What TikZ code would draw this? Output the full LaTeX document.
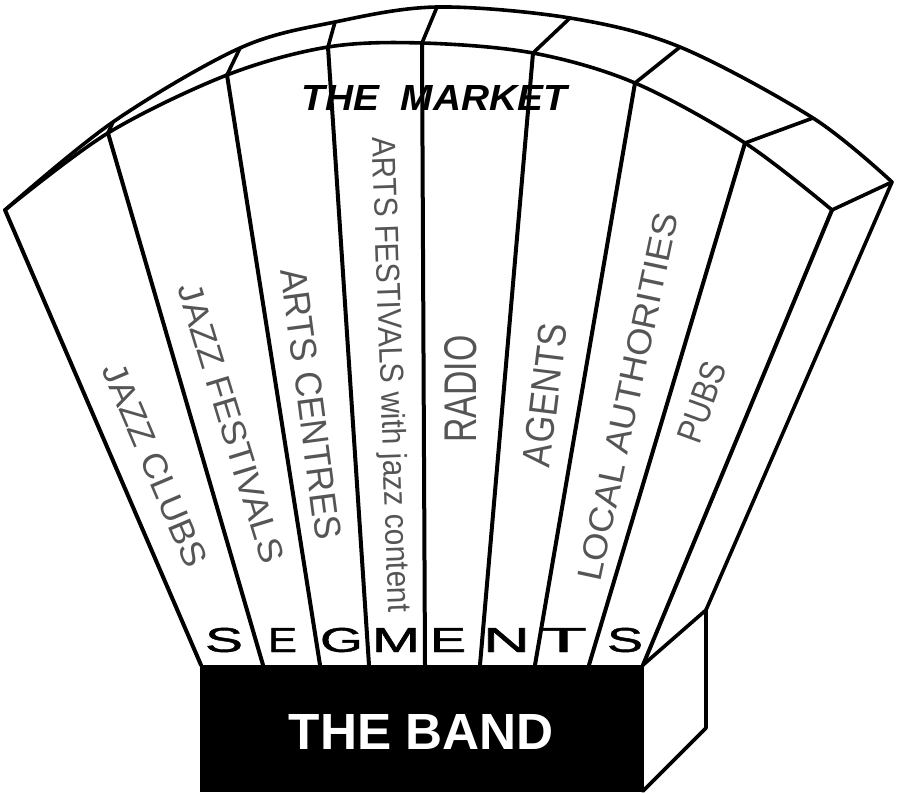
\documentclass[tikz,border=0pt]{standalone}
\usepackage{fontspec}
\setmainfont{Liberation Sans}
\newfontfamily\segfont[FakeBold=1.2]{Liberation Sans}
\usepackage{graphicx}
\definecolor{lblgray}{HTML}{555555}
\begin{document}
\begin{tikzpicture}[x=1pt,y=-1pt,
  stripline/.style={line width=4pt, line cap=round, line join=round},
  arcline/.style={line width=3.6pt, line cap=round, line join=round},
  seglabel/.style={text=lblgray, inner sep=0pt, anchor=center},
  segletter/.style={text=black, inner sep=0pt, anchor=center, font=\segfont},
  titletext/.style={text=black, inner sep=0pt, anchor=center}]
\useasboundingbox (0,0) rectangle (900,793);
% front top (inner arc) points
\coordinate (P0) at (5,210);
\coordinate (P1) at (108,133);
\coordinate (P2) at (227,75);
\coordinate (P3) at (328,47);
\coordinate (P4) at (422,43);
\coordinate (P5) at (533,53);
\coordinate (P6) at (635,83);
\coordinate (P7) at (745,143);
\coordinate (P8) at (832,210);
% back top (outer arc) points
\coordinate (Q1) at (113,122);
\coordinate (Q2) at (240,48);
\coordinate (Q3) at (335,22);
\coordinate (Q4) at (437,7);
\coordinate (Q5) at (570,18);
\coordinate (Q6) at (680,47);
\coordinate (Q7) at (813,118);
\coordinate (Q8) at (892,182);
% bottom points on the band
\coordinate (B0) at (201,665);
\coordinate (B1) at (263,665);
\coordinate (B2) at (320,665);
\coordinate (B3) at (369,665);
\coordinate (B4) at (425,665);
\coordinate (B5) at (480,665);
\coordinate (B6) at (535,665);
\coordinate (B7) at (589,665);
\coordinate (B8) at (643,665);
% side face corners
\coordinate (J) at (706,610);
\coordinate (R2) at (706,728);
\coordinate (R3) at (643,791);

% the band box
\node[fill=black, draw=black, minimum width=443pt, minimum height=126pt, inner sep=0pt] (band) at (421.5,728) {};
\node[text=white, inner sep=0pt] (bandtext) at (421.5,731.5) {\resizebox{265pt}{35pt}{\bfseries THE BAND}};

% title
\node[titletext] (market) at (434.5,97.5) {\resizebox{265pt}{25pt}{\bfseries\itshape THE\hspace{0.55em}MARKET}};

% segment labels
\node[seglabel, rotate=-67] (l1) at (155,465) {\resizebox{218pt}{24pt}{JAZZ CLUBS}};
\node[seglabel, rotate=-73] (l2) at (231,423) {\resizebox{290pt}{24pt}{JAZZ FESTIVALS}};
\node[seglabel, rotate=-82.5] (l3) at (311,404) {\resizebox{273pt}{26pt}{ARTS CENTRES}};
\node[seglabel, rotate=-88] (l4) at (389,375) {\resizebox{475pt}{24pt}{ARTS FESTIVALS with jazz content}};
\node[seglabel, rotate=90] (l5) at (461,389) {\resizebox{107pt}{32pt}{RADIO}};
\node[seglabel, rotate=83] (l6) at (545,395) {\resizebox{144pt}{28pt}{AGENTS}};
\node[seglabel, rotate=78] (l7) at (628,397) {\resizebox{375pt}{24pt}{LOCAL AUTHORITIES}};
\node[seglabel, rotate=70] (l8) at (702,402) {\resizebox{83pt}{25pt}{PUBS}};

% SEGMENTS letters
\node[segletter] (s1) at (224,640) {\resizebox{38pt}{24pt}{S}};
\node[segletter] (s2) at (282.5,640) {\resizebox{29pt}{24pt}{E}};
\node[segletter] (s3) at (341.5,640) {\resizebox{43pt}{24pt}{G}};
\node[segletter] (s4) at (396,640) {\resizebox{48pt}{24pt}{M}};
\node[segletter] (s5) at (448,640) {\resizebox{36pt}{24pt}{E}};
\node[segletter] (s6) at (506.5,640) {\resizebox{47pt}{24pt}{N}};
\node[segletter] (s7) at (563.5,640) {\resizebox{47pt}{24pt}{T}};
\node[segletter] (s8) at (625,640) {\resizebox{36pt}{24pt}{S}};

% strip lines
\foreach \i in {0,...,8} { \draw[stripline] (P\i) -- (B\i); }
% arcs
\draw[arcline] plot[smooth, tension=0.55] coordinates {(P0) (P1) (P2) (P3) (P4) (P5) (P6) (P7) (P8)};
\draw[arcline] plot[smooth, tension=0.55] coordinates {(P0) (Q1) (Q2) (Q3) (Q4) (Q5) (Q6) (Q7) (Q8)};
% depth edges
\foreach \i in {1,...,8} { \draw[arcline] (P\i) -- (Q\i); }
% right side face and box side
\draw[arcline] (Q8) -- (J);
\draw[arcline] (B8) -- (J) -- (R2) -- (R3);
\end{tikzpicture}
\end{document}
